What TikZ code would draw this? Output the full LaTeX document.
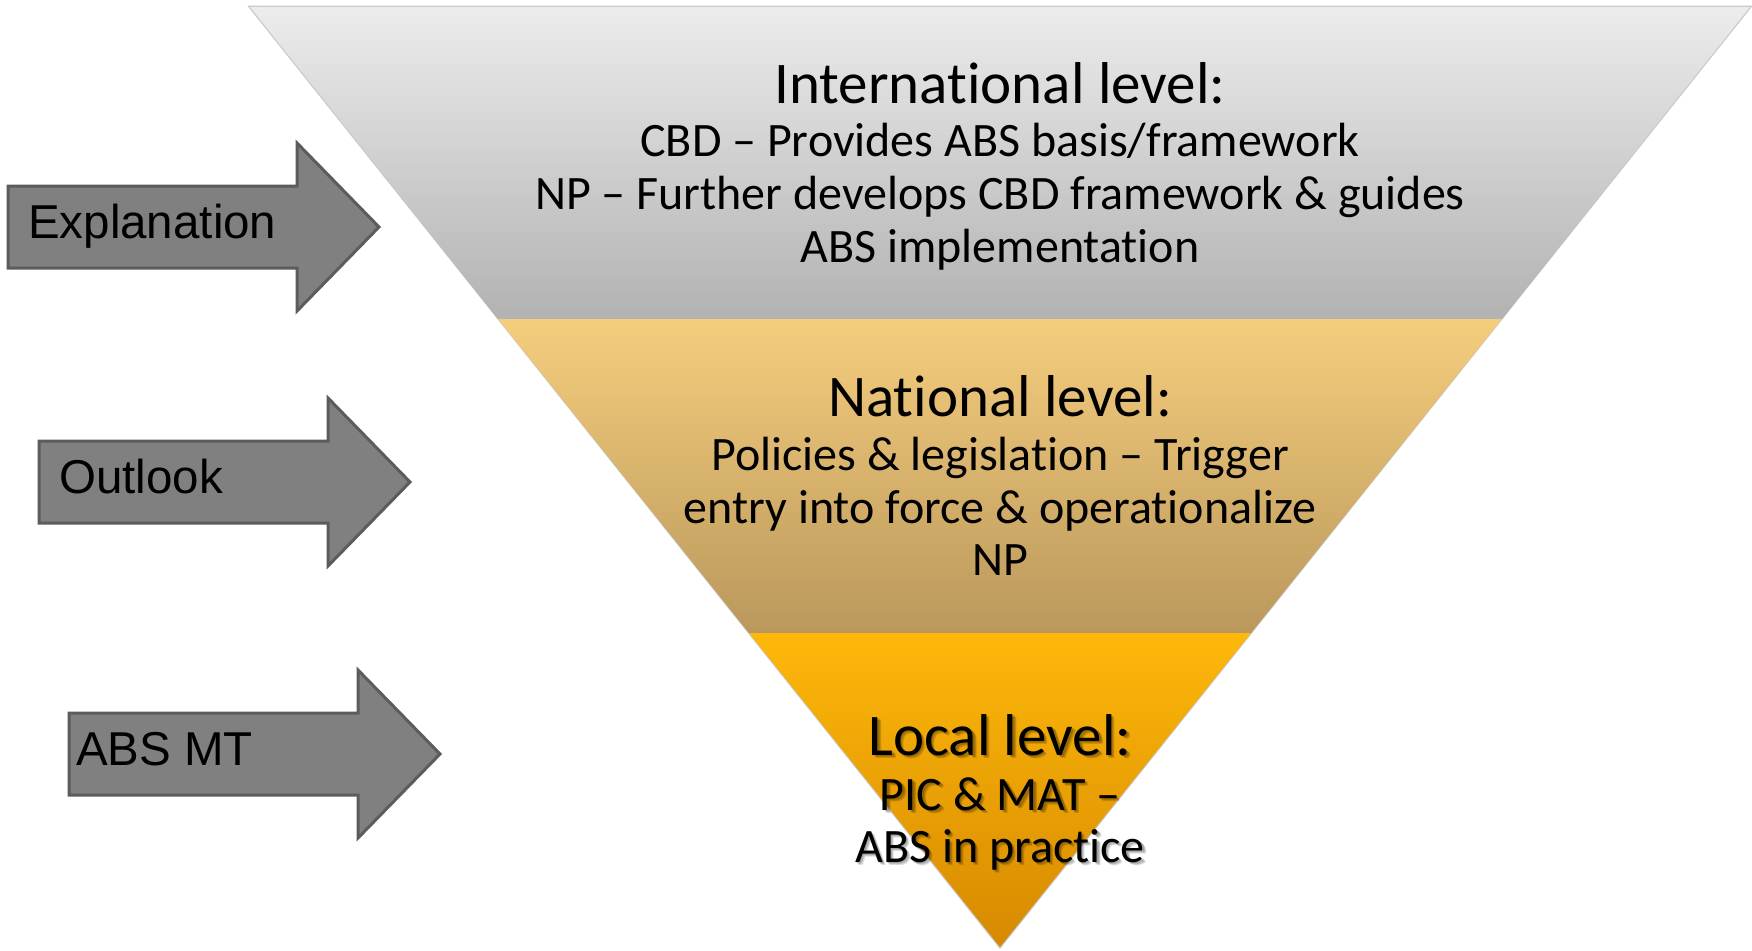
\documentclass[tikz,border=0pt]{standalone}
\usepackage{fontspec}
\setmainfont{Carlito}[Ligatures={TeX,NoCommon}]
\newfontfamily\arrowfont{Liberation Sans}
\usetikzlibrary{arrows.meta}
\usepackage{xcolor}
\definecolor{intltop}{RGB}{236,236,236}
\definecolor{intlbot}{RGB}{178,178,178}
\definecolor{natltop}{RGB}{245,205,125}
\definecolor{natlbot}{RGB}{186,152,92}
\definecolor{localtop}{RGB}{254,184,10}
\definecolor{localbot}{RGB}{214,137,0}
\definecolor{arrowfill}{RGB}{128,128,128}
\definecolor{arrowedge}{RGB}{92,92,92}

\tikzset{
  heading/.style={font=\fontsize{59}{61}\selectfont, anchor=base, inner sep=0pt},
  levelline/.style={font=\fontsize{48}{50}\selectfont, anchor=base, inner sep=0pt},
  levelarrow/.style={fill=arrowfill, draw=arrowedge, line width=3pt, line join=miter},
  arrowlabel/.style={font=\arrowfont\fontsize{47.5}{50}\selectfont, anchor=base west, inner sep=0pt},
  textshadow/.style={text=black, opacity=0.14}
}

\begin{document}
\begin{tikzpicture}[x=1pt, y=-1pt, >=Stealth]
  \useasboundingbox (0,0) rectangle (1752,950);

  % ---------- Inverted pyramid ----------
  \coordinate (tl) at (250,7);
  \coordinate (tr) at (1750,7);
  \coordinate (ml) at (498,319);
  \coordinate (mr) at (1502,319);
  \coordinate (ll) at (749,633);
  \coordinate (lr) at (1251,633);
  \coordinate (apex) at (1000,947);

  \draw[black!22, line width=2.5pt] (tl) -- (tr) -- (apex) -- cycle;
  \shade[top color=intltop, bottom color=intlbot] (tl) -- (tr) -- (mr) -- (ml) -- cycle;
  \shade[top color=natltop, bottom color=natlbot] (ml) -- (mr) -- (lr) -- (ll) -- cycle;
  \shade[top color=localtop, bottom color=localbot] (ll) -- (lr) -- (apex) -- cycle;

  % ---------- International level ----------
  \node[heading] (intlhead) at (1000,103) {International level:};
  \node[levelline] (intlcbd) at (1000,156) {CBD -- Provides ABS basis/framework};
  \node[levelline] (intlnp) at (1000,209) {NP -- Further develops CBD framework \& guides};
  \node[levelline] (intlabs) at (1000,262) {ABS implementation};

  % ---------- National level ----------
  \node[heading] (natlhead) at (1000,416) {National level:};
  \node[levelline] (natlpol) at (1000,470) {Policies \& legislation -- Trigger};
  \node[levelline] (natlforce) at (1000,523) {entry into force \& operationalize};
  \node[levelline] (natlnp) at (1000,575) {NP};

  % ---------- Local level (with soft text shadow) ----------
  \foreach \sh in {1.5,2.5,3.5} {
    \node[heading, textshadow] at (1000+\sh,755+\sh) {Local level:};
    \node[levelline, textshadow] at (1000+\sh,810+\sh) {PIC \& MAT --};
    \node[levelline, textshadow] at (1000+\sh,862+\sh) {ABS in practice};
  }
  \node[heading] (localhead) at (1000,755) {Local level:};
  \node[levelline] (localpic) at (1000,810) {PIC \& MAT --};
  \node[levelline] (localabs) at (1000,862) {ABS in practice};

  % ---------- Side arrows ----------
  \foreach \nm/\ax/\ay/\ins/\lbl in {expl/8/227/20/Explanation, outl/39/482/20/Outlook, absmt/69/754/7/ABS MT} {
    \draw[levelarrow] (\ax,\ay-41) -- (\ax+289,\ay-41) -- (\ax+289,\ay-84) -- (\ax+371,\ay)
      -- (\ax+289,\ay+84) -- (\ax+289,\ay+41) -- (\ax,\ay+41) -- cycle;
    \node[arrowlabel] (\nm) at (\ax+\ins,\ay+11) {\lbl};
  }

\end{tikzpicture}
\end{document}
